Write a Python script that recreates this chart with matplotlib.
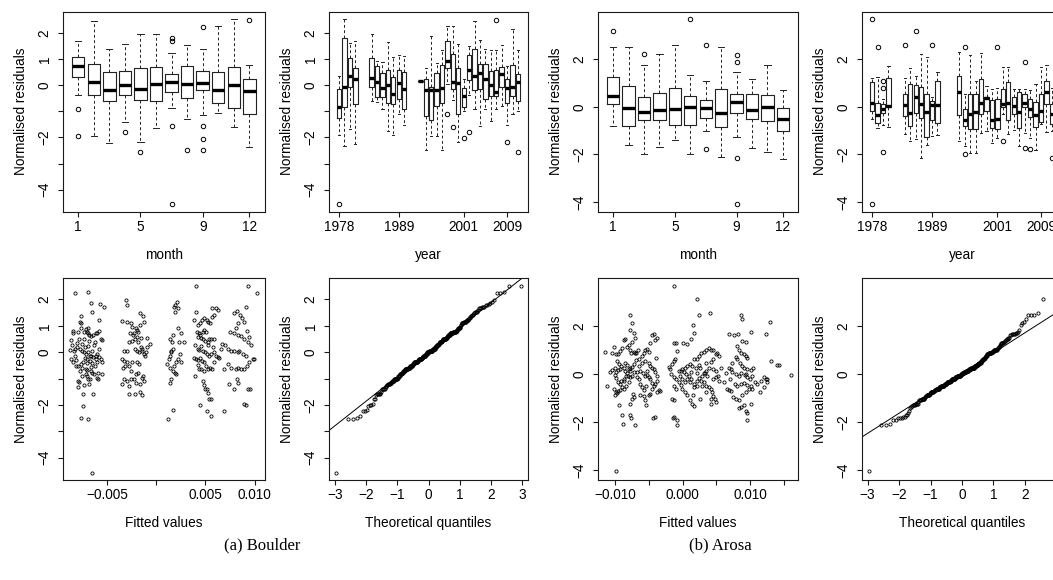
import numpy as np
import matplotlib.pyplot as plt
from statistics import NormalDist

plt.rcParams['font.family'] = ['Liberation Sans', 'DejaVu Sans']
plt.rcParams['font.size'] = 9.8

# ---------------- box plot summaries: (whisker low, q1, median, q3, whisker high)
months = list(range(1, 13))

boulder_month_stats = [
    (-0.39, 0.31, 0.73, 1.08, 1.68), (-1.95, -0.38, 0.14, 0.82, 2.45),
    (-2.20, -0.61, -0.19, 0.51, 1.39), (-1.41, -0.38, -0.01, 0.54, 1.59),
    (-2.18, -0.55, -0.14, 0.66, 1.96), (-1.63, -0.61, 0.06, 0.69, 1.96),
    (-0.87, -0.25, 0.11, 0.43, 1.24), (-1.31, -0.50, 0.04, 0.75, 1.53),
    (-1.13, -0.17, 0.09, 0.56, 1.39), (-1.06, -0.70, -0.18, 0.51, 2.25),
    (-1.60, -0.88, -0.01, 0.71, 2.53), (-2.37, -1.12, -0.24, 0.23, 0.76)]
boulder_month_fliers = [[-0.93, -1.95], [], [], [-1.80], [-2.55], [],
                        [1.81, 1.68, -1.58, -4.56], [-2.50],
                        [2.23, -1.58, -2.05, -2.50], [], [], [2.48]]

arosa_month_stats = [
    (-0.81, 0.10, 0.45, 1.24, 2.52), (-1.62, -0.81, -0.06, 0.87, 2.52),
    (-1.97, -0.56, -0.21, 0.42, 1.75), (-1.69, -0.57, -0.15, 0.59, 2.24),
    (-1.41, -0.78, -0.11, 0.80, 2.59), (-2.00, -0.76, 0.00, 0.45, 1.33),
    (-1.02, -0.49, -0.07, 0.28, 1.08), (-2.11, -0.84, -0.25, 0.73, 2.52),
    (-1.26, -0.25, 0.20, 0.56, 1.47), (-1.75, -0.53, -0.14, 0.52, 1.15),
    (-1.90, -0.60, 0.00, 0.49, 1.75), (-2.18, -1.02, -0.50, -0.07, 0.70)]
arosa_month_fliers = [[3.17], [], [2.24], [], [], [3.69], [2.62, -1.79], [],
                      [2.20, 1.89, -2.14, -4.10], [], [], []]

boulder_years = [1978, 1979, 1980, 1981, 1984, 1985, 1986, 1987, 1988, 1989,
                 1990, 1993, 1994, 1995, 1996, 1997, 1998, 1999, 2000, 2001,
                 2002, 2003, 2004, 2005, 2006, 2007, 2008, 2009, 2010, 2011]
boulder_year_stats = [
    (-1.92, -1.27, -0.83, -0.14, 0.34), (-2.33, -0.83, -0.06, 1.82, 2.53),
    (-1.69, -0.08, 0.37, 1.04, 1.62), (-2.27, -0.71, 0.25, 0.66, 1.68),
    (-0.61, -0.06, 0.29, 1.04, 1.96), (-0.65, -0.45, 0.11, 0.73, 0.92),
    (-0.93, -0.45, -0.10, 0.47, 0.89), (-1.76, -0.70, -0.01, 0.57, 1.64),
    (-1.92, -0.71, -0.32, 0.31, 1.08), (-1.12, -0.51, 0.09, 0.57, 1.17),
    (-1.54, -0.90, -0.14, 0.50, 1.13), (0.17, 0.17, 0.17, 0.17, 0.17),
    (-2.48, -1.18, -0.19, 0.24, 0.66), (-1.95, -1.35, -0.19, -0.06, 1.87),
    (-1.95, -0.78, -0.19, 0.47, 0.85), (-2.48, -0.68, -0.10, 0.79, 1.36),
    (0.03, 0.66, 0.94, 1.68, 2.25), (-0.55, -0.14, 0.11, 1.21, 2.25),
    (-2.18, -1.10, 0.09, 0.64, 1.58), (-1.00, -0.83, -0.42, -0.10, 0.24),
    (-0.36, 0.18, 0.57, 1.17, 1.49), (-0.93, -0.20, 0.34, 1.39, 2.45),
    (-1.57, -0.14, 0.45, 0.82, 1.72), (-0.93, -0.52, 0.22, 0.82, 1.39),
    (-1.38, -0.42, -0.01, 0.56, 1.36), (-0.93, -0.42, -0.27, 0.60, 1.36),
    (-0.78, -0.06, 0.41, 0.70, 1.55), (-1.54, -0.68, -0.10, 0.22, 0.73),
    (-1.12, -0.42, -0.06, 0.79, 2.17), (-0.99, -0.61, 0.11, 0.43, 1.36)]
boulder_year_fliers = {1978: [-4.56], 1998: [-1.12], 1999: [-1.60],
                       2001: [-2.04], 2002: [-1.80], 2007: [2.48],
                       2009: [-2.18], 2011: [-2.55]}

arosa_years = [1978, 1979, 1980, 1981, 1984, 1985, 1986, 1987, 1988, 1989,
               1990, 1994, 1995, 1996, 1997, 1998, 1999, 2000, 2001, 2002,
               2003, 2004, 2005, 2006, 2007, 2008, 2009, 2010, 2011]
arosa_year_stats = [
    (-0.50, -0.18, 0.17, 1.05, 1.22), (-0.88, -0.67, -0.36, 0.14, 1.24),
    (-0.78, -0.25, -0.08, 0.10, 0.35), (-0.84, -0.02, 0.03, 1.22, 1.71),
    (-1.16, -0.39, 0.06, 0.52, 1.22), (-1.44, -0.81, -0.25, 0.94, 1.64),
    (-1.34, -0.25, 0.42, 0.91, 1.29), (-2.14, -0.49, 0.13, 0.84, 2.22),
    (-1.61, -1.27, -0.22, 0.52, 2.10), (-1.23, -0.56, 0.06, 0.24, 0.42),
    (-1.20, -0.67, 0.08, 1.10, 1.47), (-1.44, -0.36, 0.62, 1.31, 2.31),
    (-1.65, -0.81, -0.56, -0.08, 0.52), (-1.93, -0.95, -0.32, 0.55, 2.17),
    (-1.93, -0.95, -0.20, 0.55, 1.08), (-1.09, -0.32, 0.17, 1.17, 2.27),
    (-1.02, -0.18, 0.38, 0.42, 0.87), (-1.51, -0.88, -0.57, 0.28, 0.76),
    (-1.33, -0.95, -0.50, 0.34, 0.80), (-0.32, 0.00, 0.10, 0.73, 1.66),
    (-1.16, -0.56, 0.17, 1.03, 1.66), (-0.98, -0.32, 0.03, 0.42, 0.73),
    (-1.65, -0.88, -0.22, 0.62, 0.76), (-1.09, 0.00, 0.17, 0.55, 0.73),
    (-1.30, -0.42, -0.11, 0.35, 0.70), (-1.82, -0.84, -0.36, 0.21, 0.94),
    (-0.74, -0.64, -0.18, 0.56, 1.66), (-1.06, 0.10, 0.62, 1.10, 1.78),
    (-1.00, -0.74, -0.32, 0.10, 0.80)]
arosa_year_fliers = {1978: [3.69, -4.10], 1979: [2.50], 1980: [1.10, 0.80, -1.89],
                     1984: [2.59], 1986: [3.17], 1989: [2.59], 1995: [2.52, -2.00],
                     2001: [2.52], 2002: [-1.44], 2006: [1.89, -1.75],
                     2007: [-1.79], 2011: [-2.17]}

# ---------------- residuals vs fitted values (fitted in units of 1e-3)
boulder_points = [
    (-8.30, 2.24), (-6.94, 2.27), (-6.67, 1.86), (-5.72, 1.83), (-5.31, 1.71),
    (-6.50, 1.54), (-5.79, 1.22), (-8.44, 0.81), (-8.47, 0.71), (-7.96, 0.77),
    (-7.69, 0.91), (-7.18, 0.87), (-6.94, 0.91), (-7.79, 1.15), (-7.62, 1.37),
    (-7.59, 1.09), (-7.35, 0.77), (-7.08, 0.77), (-6.94, 0.72), (-6.84, 0.64),
    (-6.67, 0.62), (-6.40, 0.67), (-6.16, 0.71), (-5.99, 0.74), (-5.82, 0.79),
    (-5.65, 0.51), (-5.48, 0.45), (-8.64, 0.45), (-8.54, 0.26), (-8.71, 0.10),
    (-8.37, 0.06), (-8.20, 0.13), (-8.03, 0.19), (-7.76, 0.13), (-7.52, 0.06),
    (-7.35, 0.00), (-7.18, -0.06), (-6.94, 0.00), (-6.74, -0.13), (-6.60, -0.15),
    (-6.40, -0.19), (-6.16, -0.13), (-5.99, -0.06), (-5.82, -0.19), (-5.65, -0.26),
    (-8.20, -0.15), (-8.10, -0.28), (-8.44, -0.38), (-8.17, -0.54), (-7.96, -0.51),
    (-7.69, -0.45), (-7.42, -0.38), (-7.18, -0.64), (-7.01, -0.67), (-6.67, -0.71),
    (-6.50, -0.77), (-6.06, -0.97), (-5.89, -1.00), (-5.55, -0.83), (-7.08, -0.92),
    (-6.94, -1.03), (-6.84, -1.22), (-7.93, -1.09), (-7.86, -1.13), (-7.96, -1.32),
    (-7.42, -1.60), (-6.40, -1.60), (-7.45, -2.05), (-7.62, -2.50), (-6.94, -2.53),
    (-6.57, -4.58), (-8.61, -0.26), (-7.35, 0.49), (-7.55, 0.32), (-6.81, 0.41),
    (-6.33, 0.26), (-5.79, 0.13), (-5.51, -0.38), (-5.99, -0.38), (-6.23, -0.51),
    (-6.16, -0.26), (-6.50, -0.42), (-6.74, -0.32), (-7.08, -0.26), (-7.28, -0.23),
    (-7.49, -0.58), (-7.76, -0.71), (-7.52, -0.90), (-7.18, -0.83), (-6.74, -1.00),
    (-6.33, -0.83), (-6.90, 0.25), (-7.20, 0.18), (-6.50, 0.05), (-7.00, -0.40),
    (-6.20, 0.40), (-7.80, 0.50), (-6.60, -0.55), (-8.00, 0.35), (-5.90, -0.80),
    (-7.30, -1.25),
    (-3.10, 1.99), (-3.00, 1.79), (-1.64, 1.47), (-1.33, 1.38), (-1.23, 1.15),
    (-3.44, 1.19), (-2.93, 1.15), (-2.59, 1.09), (-2.42, 0.96), (-2.08, 0.90),
    (-1.91, 0.83), (-1.64, 1.03), (-1.84, 0.77), (-2.25, 0.73), (-1.98, 0.58),
    (-2.42, 0.41), (-2.18, 0.13), (-1.98, 0.03), (-1.74, 0.00), (-1.57, 0.19),
    (-1.40, 0.13), (-1.23, -0.06), (-1.16, -0.13), (-1.40, 0.06), (-0.62, 0.32),
    (-0.89, 0.19), (-0.99, 0.00), (-3.00, 0.06), (-3.27, 0.04), (-3.44, -0.26),
    (-3.27, -0.32), (-3.20, -0.51), (-3.34, -0.58), (-2.93, -0.38), (-2.76, -0.54),
    (-2.59, -0.71), (-2.42, -0.36), (-1.91, -0.38), (-1.74, -0.45), (-1.84, -0.77),
    (-2.08, -0.83), (-2.25, -1.00), (-3.27, -1.00), (-3.44, -1.19), (-2.76, -1.28),
    (-2.52, -1.03), (-2.93, -1.09), (-2.08, -1.18), (-1.64, -1.22), (-1.40, -0.96),
    (-1.30, -0.90), (-2.76, -1.60), (-2.18, -1.60), (-1.64, -1.51), (-1.40, -1.63),
    (-1.23, -1.09), (-0.89, 0.54), (-2.66, 0.74), (-2.76, 0.38), (-2.18, 0.49),
    (-1.57, 0.54), (-1.81, 0.38), (-2.32, 0.64),
    (1.15, -0.45), (1.32, -0.26), (1.42, -0.13), (1.49, 0.03), (1.56, 0.38),
    (1.66, 0.64), (1.42, 0.51), (1.36, -0.58), (1.49, -1.03), (1.42, -1.15),
    (1.66, -2.18), (1.22, -2.54), (1.83, 1.73), (1.93, 1.79), (2.10, 1.92),
    (1.90, 1.54), (2.17, 1.67), (2.24, 0.90), (2.51, 0.71), (2.34, 0.38),
    (2.00, -0.38), (1.83, -0.51), (1.76, -0.71), (1.90, -0.77), (2.00, -0.83),
    (2.17, -0.26), (2.44, -0.06), (2.51, -0.36), (2.78, 0.38), (1.49, 0.00),
    (1.66, 0.13),
    (4.04, 2.50), (3.87, 1.22), (4.07, 1.54), (4.21, 1.03), (4.48, 1.09),
    (4.62, 1.22), (4.89, 1.28), (5.16, 1.22), (5.30, 1.15), (5.50, 1.09),
    (5.64, 1.35), (5.91, 1.41), (6.25, 1.60), (5.67, 1.69), (6.08, 1.67),
    (4.72, 0.77), (4.89, 0.83), (5.06, 0.77), (4.38, 0.71), (4.14, 0.77),
    (4.21, 0.58), (4.48, 0.64), (4.55, 0.54), (4.72, 0.49), (4.96, 0.41),
    (5.23, 0.38), (5.40, 0.49), (5.57, 0.51), (5.84, 0.49), (3.97, 0.26),
    (4.21, 0.13), (4.38, 0.10), (4.72, 0.06), (4.96, 0.00), (5.16, -0.06),
    (5.40, -0.13), (5.57, -0.06), (5.91, 0.00), (6.08, -0.15), (6.25, -0.19),
    (6.59, 0.13), (6.66, 0.32), (3.87, -0.23), (4.04, -0.26), (4.21, -0.28),
    (4.48, -0.23), (4.65, -0.32), (4.89, -0.38), (5.06, -0.51), (5.23, -0.64),
    (5.50, -0.58), (5.67, -0.64), (4.55, -0.64), (4.38, -0.62), (3.94, -0.92),
    (4.72, -1.09), (4.89, -1.26), (4.96, -1.38), (5.16, -1.41), (5.23, -1.54),
    (5.40, -1.77), (5.57, -1.79), (4.45, -1.99), (5.16, -2.24), (5.57, -2.40),
    (6.86, -2.21), (6.42, -0.23), (4.55, 0.23), (5.23, 0.26), (5.74, 0.19),
    (5.91, -0.38), (4.82, -0.71), (4.21, -0.49),
    (9.31, 2.50), (10.26, 2.24), (9.14, 1.71), (7.95, 1.47), (8.22, 1.56),
    (8.56, 1.41), (8.70, 1.28), (8.97, 1.15), (9.24, 0.82), (9.48, 0.58),
    (8.12, 0.90), (8.36, 1.09), (7.54, 0.77), (7.95, 0.71), (8.29, 0.64),
    (8.63, 0.62), (8.97, 0.51), (9.31, 0.38), (9.65, 0.26), (9.82, -0.26),
    (9.99, -0.26), (7.00, 0.26), (7.27, 0.13), (7.61, 0.03), (7.95, 0.06),
    (8.29, 0.00), (8.46, 0.06), (8.80, -0.06), (9.14, -0.13), (9.48, -0.38),
    (9.24, -0.51), (8.97, -0.64), (8.63, -0.62), (8.36, -0.58), (8.12, -0.64),
    (7.61, -0.58), (7.27, -0.45), (6.93, -0.62), (7.44, -1.22), (8.22, -1.03),
    (8.36, -1.15), (7.95, -1.38), (9.31, -1.41), (9.58, -1.38), (9.14, -1.99),
    (8.97, -1.95)]

arosa_points = [
    (-11.44, 0.91), (-10.45, 0.89), (-10.20, 1.13), (-9.80, 0.85), (-9.60, 0.82),
    (-9.31, 0.96), (-8.96, 1.09), (-8.71, 1.41), (-8.47, 1.46), (-7.82, 2.46),
    (-7.72, 1.82), (-7.48, 2.12), (-7.23, 1.71), (-6.98, 1.50), (-7.48, 1.32),
    (-7.97, 1.23), (-8.22, 1.12), (-7.72, 1.00), (-7.62, 0.89), (-7.23, 0.91),
    (-6.83, 0.86), (-6.63, 1.02), (-9.70, 0.55), (-9.46, 0.41), (-9.11, 0.34),
    (-8.71, 0.27), (-8.47, 0.48), (-8.22, 0.37), (-7.82, 0.27), (-7.48, 0.31),
    (-7.13, 0.41), (-6.83, 0.59), (-6.49, 0.64), (-5.99, 0.75), (-5.74, 0.89),
    (-5.50, 1.00), (-5.25, 1.05), (-5.00, 0.91), (-4.75, 1.30), (-4.50, 1.64),
    (-4.26, 1.67), (-4.01, 1.43), (-3.76, 1.50), (-3.86, 0.66), (-5.00, 0.48),
    (-4.75, 0.34), (-4.50, 0.27), (-4.26, 0.20), (-4.01, 0.07), (-3.76, -0.10),
    (-9.21, 0.20), (-9.60, 0.18), (-9.80, 0.07), (-9.95, -0.04), (-9.80, -0.18),
    (-9.60, -0.31), (-9.21, -0.41), (-8.91, -0.55), (-8.61, -0.61), (-8.32, -0.48),
    (-7.97, -0.34), (-7.72, -0.14), (-7.48, -0.07), (-7.13, 0.07), (-6.73, 0.07),
    (-6.24, 0.14), (-5.84, 0.04), (-5.59, -0.10), (-5.25, -0.04), (-5.00, -0.14),
    (-4.75, -0.20), (-4.50, -0.37), (-4.26, -0.51), (-4.01, -0.41), (-3.76, -0.27),
    (-11.19, -0.48), (-10.20, -0.64), (-9.80, -0.75), (-9.46, -1.30), (-8.96, -1.71),
    (-8.81, -2.09), (-7.72, -1.71), (-7.57, -1.82), (-7.82, -1.23), (-7.48, -1.02),
    (-7.23, -0.96), (-7.33, -0.82), (-6.98, -2.12), (-6.24, -0.86), (-5.74, -0.91),
    (-5.40, -1.27), (-6.73, -0.14), (-6.49, -0.20), (-8.32, -0.10), (-8.71, -0.20),
    (-9.65, -0.80), (-9.95, -0.89), (-9.60, -0.72), (-8.61, -0.27), (-9.21, -0.68),
    (-5.50, -1.09), (-5.00, -0.89), (-4.75, -0.82), (-4.50, -0.61), (-4.36, -1.82),
    (-4.01, -1.79), (-3.76, -0.75), (-3.51, -0.68), (-3.27, -0.72), (-5.35, -0.48),
    (-5.74, -0.68), (-5.99, -0.55), (-6.34, -0.41), (-10.45, 0.18), (-10.69, 0.07),
    (-9.95, 0.27), (-9.80, -4.05), (-6.98, 0.89), (-6.49, 0.34), (-5.99, 0.48),
    (-5.50, 0.55), (-5.25, 0.14), (-7.72, 0.14), (-7.97, 0.20), (-8.22, 0.04),
    (-8.47, 0.14), (-8.12, -0.10), (-9.11, -0.27),
    (-1.29, 3.68), (2.08, 3.14), (2.43, 2.46), (4.06, 2.55), (1.58, 2.05),
    (1.78, 1.71), (1.19, 1.46), (0.69, 1.27), (0.10, 1.30), (-1.19, 1.30),
    (-0.99, 1.30), (-0.79, 0.96), (-1.04, 0.61), (-1.29, 0.55), (-1.53, 0.41),
    (-2.03, 0.31), (-1.88, 0.20), (-1.68, 0.00), (-1.29, -0.14), (-0.94, -0.20),
    (-0.54, -0.34), (-0.20, -0.45), (-0.05, -0.61), (0.30, -0.75), (0.69, -0.89),
    (1.09, -1.09), (1.44, -1.23), (1.78, -1.32), (-1.19, -1.77), (-0.89, -1.91),
    (-0.79, -2.12), (-1.39, -1.84), (-1.53, -1.02), (-1.29, -1.09), (-0.94, -0.61),
    (-1.19, -0.48), (-0.54, 0.14), (-0.05, 0.20), (0.30, 0.27), (0.69, 0.34),
    (1.09, 0.41), (1.44, 0.34), (1.78, 0.61), (2.18, 0.61), (2.43, 0.75),
    (2.77, 0.86), (3.17, 0.91), (3.56, 1.02), (3.91, 1.09), (4.16, 1.02),
    (4.55, 1.00), (4.90, 0.82), (5.15, 0.89), (5.40, 0.75), (4.55, 0.64),
    (4.16, 0.51), (3.91, 0.27), (3.56, 0.14), (3.27, 0.04), (2.92, -0.10),
    (2.43, -0.18), (2.08, -0.27), (1.68, -0.41), (1.29, -0.20), (0.94, -0.10),
    (0.59, 0.00), (0.20, 0.07), (-0.20, 0.14), (3.17, -0.34), (3.42, -0.48),
    (3.91, -0.55), (4.16, -0.61), (4.41, -0.75), (4.55, -0.91), (4.75, -1.02),
    (4.90, -1.16), (4.16, -1.23), (3.42, -0.75), (2.57, -1.02), (2.77, -0.27),
    (2.92, -0.51), (2.18, -0.48), (1.68, -0.55), (1.58, -0.89), (4.26, -1.02),
    (4.55, -0.20), (4.90, -0.14), (5.25, -0.07), (5.64, 0.27), (2.67, 0.27),
    (1.93, 0.27), (1.19, 0.07), (0.69, -0.20), (0.30, -0.31), (-0.05, -0.20),
    (-0.40, -0.07), (1.09, -0.34), (2.18, 0.04), (2.43, 0.37), (3.42, 0.48),
    (4.55, 0.20), (4.90, 0.14), (5.40, -0.27), (3.17, 0.04), (3.66, -0.07),
    (8.71, 2.46), (8.86, 2.28), (8.22, 1.68), (6.88, 1.68), (7.62, 1.64),
    (10.10, 1.75), (12.33, 1.68), (12.97, 2.18), (8.86, 1.37), (9.36, 1.32),
    (8.12, 1.19), (8.37, 1.02), (8.61, 0.89), (9.11, 0.82), (9.36, 0.75),
    (9.60, 0.68), (7.87, 0.72), (8.12, 0.61), (8.51, 0.48), (8.86, 0.34),
    (9.11, 0.27), (9.60, 0.20), (10.10, 0.18), (10.50, 0.27), (7.13, 0.20),
    (7.38, 0.07), (7.87, 0.00), (8.37, -0.07), (8.71, 0.04), (9.21, -0.04),
    (9.60, -0.14), (10.00, -0.20), (10.35, -0.10), (10.69, -0.31), (11.09, -0.41),
    (11.58, -0.27), (12.08, -0.14), (12.33, -0.20), (12.57, -0.34), (13.07, 0.55),
    (14.06, 0.37), (14.31, 0.37), (16.04, -0.04), (6.39, 0.04), (6.14, -0.34),
    (6.63, -0.61), (6.88, -0.68), (7.13, -0.72), (7.52, -0.96), (7.87, -1.02),
    (8.37, -1.09), (8.86, -0.89), (9.36, -0.75), (9.85, -0.61), (10.10, -0.51),
    (10.35, -0.61), (8.37, -1.41), (8.71, -1.37), (9.36, -1.54), (9.60, -1.61),
    (9.11, -1.27), (10.10, -1.23), (9.36, 0.00), (7.03, -0.20), (7.72, -0.41),
    (8.12, -0.48), (8.61, -0.41), (9.11, -0.37), (9.60, -0.45), (11.49, -0.75),
    (12.08, -0.55), (12.57, -0.20), (7.38, 0.48), (6.88, 0.27), (9.60, -1.93)]

# ---------------- layout (pixel boxes of the reference)
W, H = 1053, 580
fig = plt.figure(figsize=(W / 100, H / 100), dpi=100)


def add_ax(left, top, right, bottom):
    return fig.add_axes([left / W, 1 - bottom / H, (right - left) / W, (bottom - top) / H])


def style(ax, yticks, ylabels, xlabel):
    for s in ax.spines.values():
        s.set_linewidth(0.8)
        s.set_color('#1a1a1a')
    ax.tick_params(direction='out', length=3.6, width=0.8, color='#1a1a1a', pad=2.5)
    ax.tick_params(axis='y', pad=4.5)
    ax.set_yticks(yticks)
    ax.set_yticklabels(ylabels, rotation=90, va='center')
    ax.set_ylabel('Normalised residuals', labelpad=7)
    ax.set_xlabel(xlabel, labelpad=10)


def draw_boxes(ax, positions, stats, fliers):
    bx = [dict(whislo=s[0], q1=s[1], med=s[2], q3=s[3], whishi=s[4], fliers=f)
          for s, f in zip(stats, fliers)]
    ax.bxp(bx, positions=positions, widths=0.8, capwidths=0.4, manage_ticks=False,
           boxprops=dict(color='#222222', lw=0.8),
           medianprops=dict(color='black', lw=2.4, solid_capstyle='butt'),
           whiskerprops=dict(color='#222222', lw=0.7, ls=(0, (3, 2.5))),
           capprops=dict(color='#222222', lw=0.7),
           flierprops=dict(marker='o', mfc='none', mec='black', ms=3.2, mew=0.7))


def draw_scatter(ax, points):
    f, r = np.array(points).T
    ax.plot(f * 1e-3, r, 'o', ms=2.3, mfc='none', mec='black', mew=0.6)
    ax.margins(x=0.04)


def draw_qq(ax, points):
    r = np.sort(np.array(points)[:, 1])
    n = len(r)
    nd = NormalDist()
    theo = np.array([nd.inv_cdf((i - 0.5) / n) for i in range(1, n + 1)])
    ax.plot(theo, r, 'o', ms=2.3, mfc='none', mec='black', mew=0.6)
    q1, q3 = np.percentile(r, [25, 75])
    z1, z3 = nd.inv_cdf(0.25), nd.inv_cdf(0.75)
    slope = (q3 - q1) / (z3 - z1)
    ax.axline((0, q1 - slope * z1), slope=slope, color='black', lw=0.7)
    ax.margins(x=0.04)
    ax.set_xticks(range(-3, 4))
    ax.set_xticklabels(['\u22123', '\u22122', '\u22121', '0', '1', '2', '3'])


def year_fliers(years, fl):
    return [fl.get(y, []) for y in years]


def ylims(stats_lists, flier_lists):
    vals = [v for st in stats_lists for s in st for v in s]
    vals += [v for fls in flier_lists for f in fls for v in f]
    lo, hi = min(vals), max(vals)
    pad = 0.04 * (hi - lo)
    return lo - pad, hi + pad


cols = [(63, 264.6), (329, 528), (598, 798), (862, 1062)]
top_row = (11.7, 211.7)
bot_row = (278, 480)

stations = [
    dict(points=boulder_points, mstats=boulder_month_stats, mfl=boulder_month_fliers,
         years=boulder_years, ystats=boulder_year_stats, yfl=boulder_year_fliers,
         yticks=list(range(-4, 3)),
         ylabels=['\u22124', '', '\u22122', '', '0', '1', '2'],
         fticks=[-0.005, 0.0, 0.005, 0.010],
         flabels=['\u22120.005', '', '0.005', '0.010']),
    dict(points=arosa_points, mstats=arosa_month_stats, mfl=arosa_month_fliers,
         years=arosa_years, ystats=arosa_year_stats, yfl=arosa_year_fliers,
         yticks=[-4, -2, 0, 2],
         ylabels=['\u22124', '\u22122', '0', '2'],
         fticks=[-0.010, -0.005, 0.0, 0.005, 0.010, 0.015],
         flabels=['\u22120.010', '', '0.000', '', '0.010', '']),
]

for k, st in enumerate(stations):
    c1, c2 = cols[2 * k], cols[2 * k + 1]
    yfl = year_fliers(st['years'], st['yfl'])
    ylim = ylims([st['mstats'], st['ystats']], [st['mfl'], yfl])

    ax = add_ax(c1[0], top_row[0], c1[1], top_row[1])
    draw_boxes(ax, months, st['mstats'], st['mfl'])
    ax.set_xlim(0.5 - 0.48, 12.5 + 0.48)
    ax.set_xticks([1, 5, 9, 12])
    ax.set_ylim(ylim)
    style(ax, st['yticks'], st['ylabels'], 'month')

    ax = add_ax(c2[0], top_row[0], c2[1], top_row[1])
    draw_boxes(ax, st['years'], st['ystats'], yfl)
    ax.set_xlim(1977.5 - 1.36, 2011.5 + 1.36)
    ax.set_xticks([1978, 1989, 2001, 2009])
    ax.set_ylim(ylim)
    style(ax, st['yticks'], st['ylabels'], 'year')

    ax = add_ax(c1[0], bot_row[0], c1[1], bot_row[1])
    draw_scatter(ax, st['points'])
    ax.set_xticks(st['fticks'])
    ax.set_xticklabels(st['flabels'])
    ax.set_ylim(ylim)
    style(ax, st['yticks'], st['ylabels'], 'Fitted values')

    ax = add_ax(c2[0], bot_row[0], c2[1], bot_row[1])
    draw_qq(ax, st['points'])
    ax.set_ylim(ylim)
    style(ax, st['yticks'], st['ylabels'], 'Theoretical quantiles')

serif = ['Liberation Serif', 'DejaVu Serif']
fig.text(262 / W, 1 - 545 / H, '(a) Boulder', family=serif, size=12,
         ha='center', va='center')
fig.text(720 / W, 1 - 545 / H, '(b) Arosa', family=serif, size=12,
         ha='center', va='center')

fig.savefig('out.png', dpi=100)
